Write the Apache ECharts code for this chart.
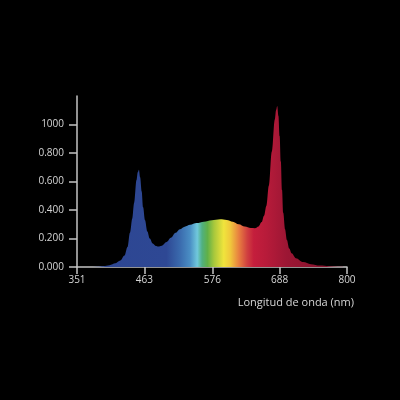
<!DOCTYPE html>
<html>
<head>
<meta charset="utf-8">
<script src="https://cdn.jsdelivr.net/npm/echarts@6/dist/echarts.min.js"></script>
<style>
html,body{margin:0;padding:0;background:#000;}
#c{width:400px;height:400px;}
</style>
</head>
<body>
<div id="c"></div>
<script>
// Wavelength (nm) and relative intensity
const wavelengths = [351,370,385,395,405,415,423,430,435,439,443,446,450,452,454,456,458.6,461,464,468,472,477,482,486,492,500,507,515,522,530,539,550,562,575,589,600,610,620,630,640,647,653,658,662,666,670,675,680,682,684,686,688,690,692,694,697,700,704,708,715,727,740,755,770,785,800];
const intensity   = [0,0,0.002,0.006,0.013,0.026,0.045,0.08,0.14,0.24,0.34,0.45,0.61,0.665,0.683,0.63,0.53,0.42,0.33,0.25,0.20,0.165,0.148,0.143,0.15,0.175,0.205,0.24,0.265,0.283,0.296,0.308,0.318,0.328,0.335,0.33,0.318,0.30,0.284,0.273,0.272,0.285,0.315,0.36,0.43,0.57,0.81,1.035,1.10,1.13,1.06,0.92,0.74,0.54,0.38,0.265,0.19,0.13,0.096,0.062,0.035,0.02,0.01,0.005,0.002,0];
const xTicks = [351,463,576,688,800];
const yTicks = [0,0.2,0.4,0.6,0.8,1.0];
const yTickLabels = ['0.000','0.200','0.400','0.600','0.800','1000'];
const xName = 'Longitud de onda (nm)';

// spectrum colour stops (nm, colour)
const specNm  = [351,500,522,539,551,559,568,579,595,606,620,634,645,665,700,800];
const specCol = ['#2d4592','#2e4894','#3a6aad','#4a8ec4','#70c8dc','#50b080','#60b048','#a8c83c','#f0e43c','#f0c83c','#e88040','#d04040','#c41e3c','#b81b3a','#9c1634','#7c1129'];

const data = wavelengths.map((w,i)=>[w,intensity[i]]);
const lo = wavelengths[0], hi = wavelengths[wavelengths.length-1];
const stops = specNm.map((n,i)=>({offset:(n-lo)/(hi-lo), color:specCol[i]}));

const chart = echarts.init(document.getElementById('c'));
const labelStyle = {color:'#d6d6d6', fontSize:10, fontFamily:'Open Sans'};
chart.setOption({
  backgroundColor:'#000',
  animation:false,
  grid:{left:77, right:53, top:96, bottom:133},
  xAxis:{
    type:'value', min:351, max:800,
    axisLine:{lineStyle:{color:'#c4c4c4', width:1.5}},
    axisTick:{customValues:xTicks, length:7, lineStyle:{color:'#c4c4c4', width:1.5}},
    axisLabel:Object.assign({customValues:xTicks, margin:8}, labelStyle),
    splitLine:{show:false}
  },
  yAxis:{
    type:'value', min:0, max:1.2,
    axisLine:{show:true, lineStyle:{color:'#c4c4c4', width:1.5}},
    axisTick:{show:true, customValues:yTicks, length:8, lineStyle:{color:'#c4c4c4', width:1.5}},
    axisLabel:Object.assign({customValues:yTicks, margin:13,
      formatter:(v)=>yTickLabels[Math.round(v/0.2)]}, labelStyle),
    splitLine:{show:false}
  },
  graphic:[{
    type:'text', right:46, top:297,
    style:{text:xName, fill:'#d6d6d6', fontSize:11, fontFamily:'Open Sans'}
  }],
  series:[{
    type:'line', data:data, smooth:0.35, smoothMonotone:'x', showSymbol:false,
    lineStyle:{width:0},
    itemStyle:{color:'#2d4592'},
    areaStyle:{opacity:1, color:new echarts.graphic.LinearGradient(0,0,1,0,stops)}
  }]
});
</script>
</body>
</html>
